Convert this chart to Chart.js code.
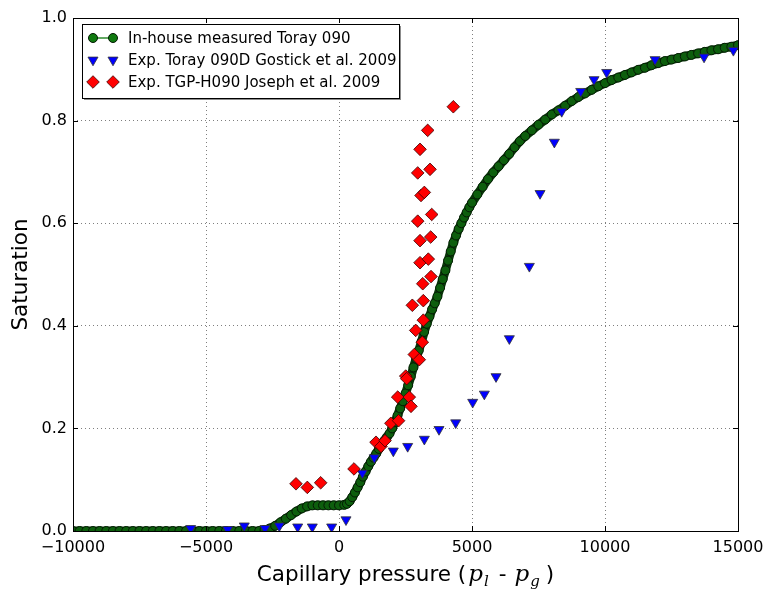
<!DOCTYPE html>
<html>
<head>
<meta charset="utf-8">
<script src="https://cdn.jsdelivr.net/npm/chart.js@4.4.0/dist/chart.umd.min.js"></script>
<style>
  html, body { margin: 0; padding: 0; background: #fff; }
  #wrap { width: 767px; height: 594px; }
</style>
</head>
<body>
<div id="wrap"><canvas id="satChart" width="767" height="594"></canvas></div>
<script>
// in-house measured curve (capillary pressure, saturation)
const inhousePc = [
  -10000, -9750, -9500, -9250, -9000, -8750, -8500, -8250, -8000, -7750,
  -7500, -7250, -7000, -6750, -6500, -6250, -6000, -5750, -5500, -5250,
  -5000, -4750, -4500, -4250, -4000, -3750, -3500, -3250, -3000,
  -2800, -2600, -2400, -2200, -2000, -1800, -1600, -1400, -1200, -1000,
  -800, -600, -400, -200, 0, 200, 300, 400, 500, 600, 700, 800, 900,
  1000, 1100, 1200, 1300, 1400, 1500, 1600, 1700, 1800, 1900,
  2000, 2100, 2200, 2300, 2400, 2500, 2600, 2700, 2800, 2900,
  3000, 3100, 3200, 3300, 3400, 3500, 3600, 3700, 3800, 3900,
  4000, 4100, 4200, 4300, 4400, 4500, 4600, 4700, 4800, 4900,
  5000, 5200, 5400, 5600, 5800, 6000, 6200, 6400, 6600, 6800,
  7000, 7250, 7500, 7750, 8000, 8250, 8500, 8750, 9000, 9250,
  9500, 9750, 10000, 10250, 10500, 10750, 11000, 11250, 11500, 11750,
  12000, 12250, 12500, 12750, 13000, 13250, 13500, 13750, 14000, 14250,
  14500, 14750, 15000
];
const inhouseSat = [
  0, 0, 0, 0, 0, 0, 0, 0, 0, 0,
  0, 0, 0, 0, 0, 0, 0, 0, 0, 0,
  0, 0, 0, 0, 0, 0, 0, 0, 0,
  0.002, 0.005, 0.010, 0.017, 0.024, 0.031, 0.038, 0.044, 0.048, 0.050,
  0.050, 0.050, 0.050, 0.050, 0.050, 0.051, 0.053, 0.058, 0.066, 0.075, 0.085, 0.095, 0.106,
  0.116, 0.126, 0.135, 0.143, 0.151, 0.160, 0.168, 0.176, 0.183, 0.190,
  0.200, 0.212, 0.225, 0.239, 0.253, 0.268, 0.284, 0.301, 0.319, 0.336,
  0.352, 0.369, 0.388, 0.404, 0.418, 0.432, 0.444, 0.457, 0.474, 0.491,
  0.508, 0.527, 0.545, 0.562, 0.576, 0.589, 0.600, 0.611, 0.621, 0.631,
  0.640, 0.656, 0.671, 0.686, 0.699, 0.711, 0.723, 0.735, 0.748, 0.760,
  0.770, 0.781, 0.792, 0.802, 0.812, 0.820, 0.829, 0.838, 0.846, 0.853,
  0.860, 0.867, 0.873, 0.879, 0.884, 0.889, 0.894, 0.899, 0.903, 0.908,
  0.912, 0.916, 0.919, 0.922, 0.925, 0.928, 0.931, 0.934, 0.937, 0.939,
  0.942, 0.944, 0.947
];

// Gostick et al. 2009 (Toray 090D)
const gostickPc = [
  -5576, -4185, -3561, -2782, -2244, -1553, -1003, -276, 263, 877,
  1328, 2042, 2582, 3208, 3760, 4387, 5026, 5464, 5903, 6404,
  7156, 7558, 8096, 8373, 9087, 9588, 10064, 11882, 13724, 14826
];
const gostickSat = [
  0.005, 0.003, 0.010, 0.005, 0.010, 0.008, 0.008, 0.008, 0.022, 0.113,
  0.143, 0.156, 0.165, 0.179, 0.198, 0.211, 0.251, 0.267, 0.301, 0.375,
  0.516, 0.658, 0.758, 0.818, 0.857, 0.880, 0.894, 0.919, 0.924, 0.937
];

// Joseph et al. 2009 (TGP-H090)
const josephPc = [
  -1617, -1191, -689, 564, 1391, 1579, 1730, 1950, 2240, 2207,
  2643, 2707, 2508, 2545, 2831, 3019, 3132, 2884, 3170, 2757,
  3170, 3148, 3459, 3046, 3358, 3046, 3447, 2959, 3485, 3083,
  3208, 2959, 3422, 3046, 3334, 4298
];
const josephSat = [
  0.092, 0.085, 0.094, 0.121, 0.173, 0.165, 0.176, 0.210, 0.215, 0.261,
  0.261, 0.243, 0.302, 0.297, 0.344, 0.334, 0.368, 0.391, 0.411, 0.440,
  0.449, 0.482, 0.496, 0.523, 0.530, 0.566, 0.573, 0.604, 0.617, 0.654,
  0.660, 0.698, 0.705, 0.744, 0.781, 0.827
];

const xTicks = [-10000, -5000, 0, 5000, 10000, 15000];
const yTicks = [0, 0.2, 0.4, 0.6, 0.8, 1.0];

const legendLabels = [
  "In-house measured Toray 090",
  "Exp. Toray 090D Gostick et al. 2009",
  "Exp. TGP-H090 Joseph et al. 2009"
];

const toXY = (xs, ys) => xs.map((x, i) => ({ x: x, y: ys[i] }));

const greenStyle = { pointStyle: 'circle', radius: 4.5, rotation: 0, fill: '#0d5e0d', edge: '#041a04', edgeW: 1 };
const blueStyle = { pointStyle: 'triangle', radius: 5.8, rotation: 180, fill: '#0000ff', edge: '#333333', edgeW: 0.8 };
const redStyle = { pointStyle: 'rectRot', radius: 6.3, rotation: 0, fill: '#ff0000', edge: '#3a0000', edgeW: 0.8 };

// frame + inward tick marks on all four sides
const frameTicks = {
  id: 'frameTicks',
  afterDatasetsDraw(chart) {
    const { ctx, chartArea: a, scales } = chart;
    ctx.save();
    ctx.strokeStyle = '#000';
    ctx.lineWidth = 1;
    ctx.beginPath();
    xTicks.forEach(v => {
      const px = Math.round(scales.x.getPixelForValue(v)) + 0.5;
      ctx.moveTo(px, a.bottom); ctx.lineTo(px, a.bottom - 5);
      ctx.moveTo(px, a.top); ctx.lineTo(px, a.top + 5);
    });
    yTicks.forEach(v => {
      const py = Math.round(scales.y.getPixelForValue(v)) + 0.5;
      ctx.moveTo(a.left, py); ctx.lineTo(a.left + 5, py);
      ctx.moveTo(a.right, py); ctx.lineTo(a.right - 5, py);
    });
    ctx.stroke();
    ctx.strokeRect(Math.round(a.left) + 0.5, Math.round(a.top) + 0.5,
      Math.round(a.right - a.left), Math.round(a.bottom - a.top));
    ctx.restore();
  }
};

// matplotlib-like legend box and x-axis label with math subscripts
const legendBox = {
  id: 'legendBox',
  afterDraw(chart) {
    const { ctx, chartArea: a } = chart;
    const x0 = a.left + 9, y0 = a.top + 6, w = 317, h = 74;
    ctx.save();
    ctx.fillStyle = 'rgba(0,0,0,0.45)';
    ctx.fillRect(x0 + 2, y0 + 2, w, h);
    ctx.fillStyle = '#fff';
    ctx.fillRect(x0, y0, w, h);
    ctx.strokeStyle = '#000';
    ctx.lineWidth = 1;
    ctx.strokeRect(x0 + 0.5, y0 + 0.5, w, h);

    const styles = [greenStyle, blueStyle, redStyle];
    const m1 = x0 + 11, m2 = x0 + 31, tx = x0 + 46;
    ctx.font = '15px "DejaVu Sans"';
    ctx.textBaseline = 'middle';
    styles.forEach((s, i) => {
      const cy = y0 + 14 + i * 22;
      if (i === 0) {
        ctx.strokeStyle = '#2e8b2e';
        ctx.lineWidth = 1.5;
        ctx.beginPath(); ctx.moveTo(m1, cy); ctx.lineTo(m2, cy); ctx.stroke();
      }
      [m1, m2].forEach(mx => {
        ctx.fillStyle = i === 0 ? '#0f7a0f' : s.fill;
        ctx.strokeStyle = s.edge;
        ctx.lineWidth = s.edgeW;
        Chart.helpers.drawPoint(ctx, { pointStyle: s.pointStyle, radius: s.radius, rotation: s.rotation, borderWidth: s.edgeW }, mx, cy);
      });
      ctx.fillStyle = '#000';
      ctx.fillText(legendLabels[i], tx, cy + 1);
    });

    // x axis title: Capillary pressure (p_l - p_g)
    const parts = [
      { t: 'Capillary pressure (', f: '21.5px "DejaVu Sans"', dy: 0, gap: 2 },
      { t: 'p', f: 'italic 23px "DejaVu Serif"', dy: 0, gap: 1 },
      { t: 'l', f: 'italic 15px "DejaVu Serif"', dy: 5, gap: 10 },
      { t: '-', f: '21.5px "DejaVu Sans"', dy: 0, gap: 8 },
      { t: 'p', f: 'italic 23px "DejaVu Serif"', dy: 0, gap: 1 },
      { t: 'g', f: 'italic 15px "DejaVu Serif"', dy: 5, gap: 6 },
      { t: ')', f: '21.5px "DejaVu Sans"', dy: 0, gap: 0 }
    ];
    let total = 0;
    parts.forEach(p => { ctx.font = p.f; p.w = ctx.measureText(p.t).width; total += p.w + p.gap; });
    let cx = (a.left + a.right) / 2 - total / 2;
    ctx.fillStyle = '#000';
    ctx.textBaseline = 'alphabetic';
    ctx.textAlign = 'left';
    parts.forEach(p => {
      ctx.font = p.f;
      ctx.fillText(p.t, cx, 581 + p.dy);
      cx += p.w + p.gap;
    });
    ctx.restore();
  }
};

const satConfig = {
  type: 'scatter',
  data: {
    datasets: [
      {
        label: legendLabels[0],
        data: toXY(inhousePc, inhouseSat),
        showLine: true,
        borderColor: '#0a3a0a',
        borderWidth: 9,
        borderCapStyle: 'round',
        borderJoinStyle: 'round',
        pointStyle: greenStyle.pointStyle,
        pointRadius: greenStyle.radius,
        pointBackgroundColor: greenStyle.fill,
        pointBorderColor: greenStyle.edge,
        pointBorderWidth: greenStyle.edgeW,
        order: 3
      },
      {
        label: legendLabels[1],
        data: toXY(gostickPc, gostickSat),
        pointStyle: blueStyle.pointStyle,
        pointRotation: blueStyle.rotation,
        pointRadius: blueStyle.radius,
        pointBackgroundColor: blueStyle.fill,
        pointBorderColor: blueStyle.edge,
        pointBorderWidth: blueStyle.edgeW,
        order: 2
      },
      {
        label: legendLabels[2],
        data: toXY(josephPc, josephSat),
        pointStyle: redStyle.pointStyle,
        pointRadius: redStyle.radius,
        pointBackgroundColor: redStyle.fill,
        pointBorderColor: redStyle.edge,
        pointBorderWidth: redStyle.edgeW,
        order: 1
      }
    ]
  },
  options: {
    responsive: false,
    animation: false,
    layout: { padding: { top: 18, right: 29, left: 0, bottom: 0 } },
    plugins: {
      legend: { display: false },
      tooltip: { enabled: false }
    },
    scales: {
      x: {
        type: 'linear',
        min: -10000,
        max: 15000,
        afterBuildTicks: s => { s.ticks = xTicks.map(v => ({ value: v })); },
        afterFit: s => { s.height = 63; s.paddingLeft = 0; s.paddingRight = 0; },
        grid: { color: 'rgba(0,0,0,0.5)', lineWidth: 1, drawTicks: false },
        border: { display: false, dash: [1, 3] },
        ticks: {
          color: '#000',
          padding: 7,
          maxRotation: 0,
          font: { family: 'DejaVu Sans', size: 16 },
          callback: v => String(v).replace('-', '\u2212')
        }
      },
      y: {
        type: 'linear',
        min: 0,
        max: 1,
        afterBuildTicks: s => { s.ticks = yTicks.map(v => ({ value: v })); },
        afterFit: s => { s.width = 73; },
        grid: { color: 'rgba(0,0,0,0.5)', lineWidth: 1, drawTicks: false },
        border: { display: false, dash: [1, 3] },
        title: {
          display: true,
          text: 'Saturation',
          color: '#000',
          font: { family: 'DejaVu Sans', size: 21.5 },
          padding: { top: 9, bottom: 0 }
        },
        ticks: {
          color: '#000',
          padding: 6,
          font: { family: 'DejaVu Sans', size: 16 },
          callback: v => v.toFixed(1)
        }
      }
    }
  },
  plugins: [frameTicks, legendBox]
};

const satCtx = document.getElementById('satChart').getContext('2d');
const satChart = new Chart(satCtx, satConfig);
</script>
</body>
</html>
